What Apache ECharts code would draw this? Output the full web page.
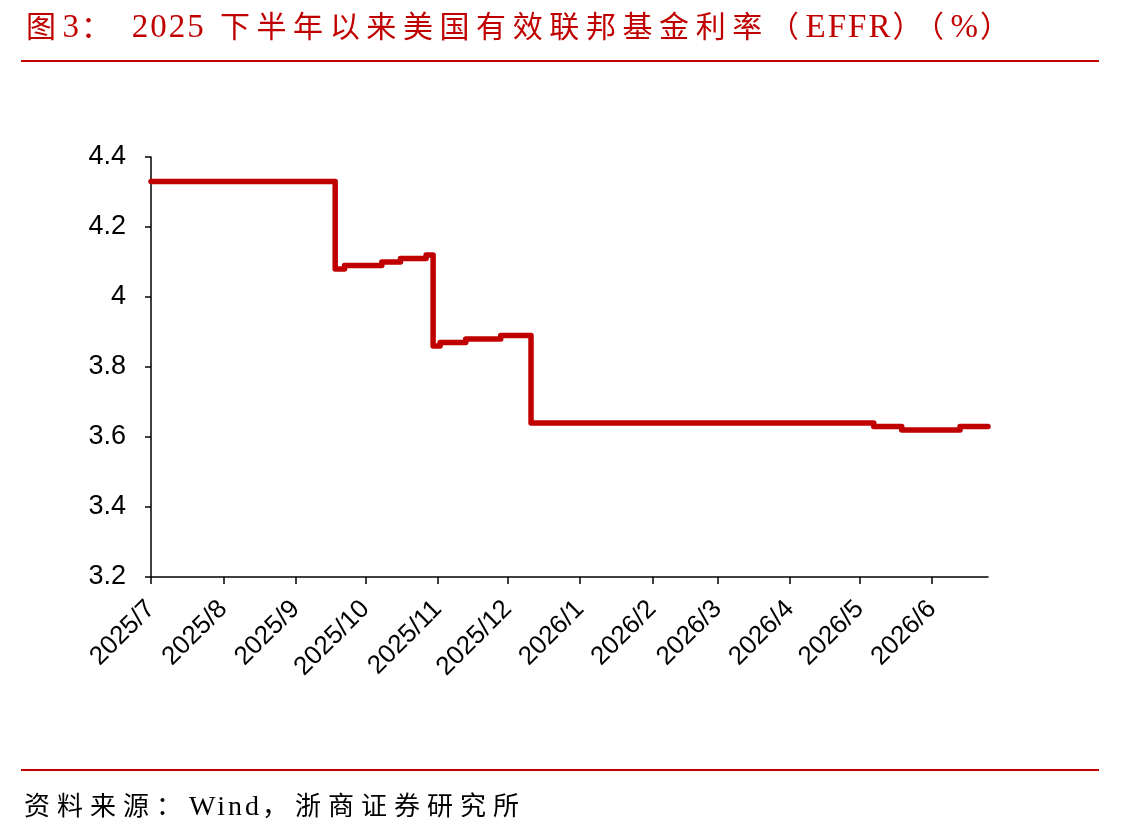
<!DOCTYPE html>
<html>
<head>
<meta charset="utf-8">
<script src="https://cdn.jsdelivr.net/npm/echarts@6/dist/echarts.min.js"></script>
<style>
  html, body { margin: 0; padding: 0; background: #fff; }
  #wrap { position: relative; width: 1141px; height: 838px; }
  #chart { position: absolute; left: 0; top: 0; width: 1141px; height: 838px; }
  .title {
    position: absolute; left: 26px; top: 8px;
    font-family: "Liberation Serif", "Noto Sans CJK SC", serif;
    font-size: 30px; line-height: 36px; letter-spacing: 6.6px;
    color: #C00000; white-space: nowrap;
  }
  .title .lat { font-size: 33px; letter-spacing: 2px; }
  .source {
    position: absolute; left: 24px; top: 791px;
    font-family: "Liberation Serif", "Noto Sans CJK SC", serif;
    font-size: 26px; line-height: 30px; letter-spacing: 7px;
    color: #000; white-space: nowrap;
  }
  .source .lat { font-size: 28px; letter-spacing: 3px; }
</style>
</head>
<body>
<div id="wrap">
  <div id="chart"></div>
  <div class="title">图<span class="lat">3</span>： <span class="lat">2025</span> 下半年以来美国有效联邦基金利率（<span class="lat">EFFR</span>）（<span class="lat">%</span>）</div>
  <div class="source">资料来源：<span class="lat">Wind</span>，浙商证券研究所</div>
</div>
<script>
// EFFR 变动日期及对应利率（阶梯）
const rateDates = ['2025-07-01', '2025-09-18', '2025-09-22', '2025-10-08', '2025-10-16',
  '2025-10-27', '2025-10-30', '2025-11-02', '2025-11-13', '2025-11-28', '2025-12-11',
  '2026-05-07', '2026-05-19', '2026-06-13', '2026-06-25']
const rateValues = [4.33, 4.08, 4.09, 4.10, 4.11, 4.12, 3.86, 3.87, 3.88, 3.89, 3.64,
  3.63, 3.62, 3.63, 3.63]
const monthLabels = ['2025/7', '2025/8', '2025/9', '2025/10', '2025/11', '2025/12',
  '2026/1', '2026/2', '2026/3', '2026/4', '2026/5', '2026/6']
const axisEnd = '2026-06-25'

function toTime(s) {
  const p = s.split(/[-/]/)
  return new Date(+p[0], +p[1] - 1, +(p[2] || 1)).getTime()
}

const monthTicks = monthLabels.map(toTime)

function tickLabel(v) {
  let best = 0
  for (let i = 1; i < monthTicks.length; i++) {
    if (Math.abs(monthTicks[i] - v) < Math.abs(monthTicks[best] - v)) best = i
  }
  return monthLabels[best]
}

const chartObj = echarts.init(document.getElementById('chart'))
chartObj.setOption({
  animation: false,
  grid: { left: 151, right: 153, top: 157, bottom: 261 },
  xAxis: {
    type: 'value',
    min: monthTicks[0],
    max: toTime(axisEnd),
    axisLine: { lineStyle: { color: '#000', width: 1.5 } },
    axisTick: { show: true, length: 7, customValues: monthTicks, lineStyle: { color: '#000', width: 1.5 } },
    axisLabel: {
      customValues: monthTicks,
      rotate: 45,
      margin: 28,
      color: '#000',
      fontSize: 26,
      fontFamily: 'Liberation Sans, Arial, sans-serif',
      formatter: v => tickLabel(v)
    },
    splitLine: { show: false }
  },
  yAxis: {
    type: 'value',
    min: 3.2,
    max: 4.4,
    interval: 0.2,
    axisLine: { show: true, lineStyle: { color: '#000', width: 1.5 } },
    axisTick: { show: true, length: 6, lineStyle: { color: '#000', width: 1.5 } },
    axisLabel: {
      margin: 25,
      color: '#000',
      fontSize: 27,
      fontFamily: 'Liberation Sans, Arial, sans-serif',
      formatter: v => String(+v.toFixed(1))
    },
    splitLine: { show: false }
  },
  series: [
    {
      name: 'EFFR',
      type: 'line',
      step: 'end',
      symbol: 'none',
      lineStyle: { color: '#C00000', width: 5.5, cap: 'round', join: 'round' },
      data: rateDates.map((d, i) => [toTime(d), rateValues[i]])
    }
  ],
  graphic: [
    { type: 'line', shape: { x1: 21, y1: 61, x2: 1099, y2: 61 }, style: { stroke: '#C00000', lineWidth: 2 } },
    { type: 'line', shape: { x1: 21, y1: 770, x2: 1099, y2: 770 }, style: { stroke: '#C00000', lineWidth: 2 } }
  ]
})
</script>
</body>
</html>
